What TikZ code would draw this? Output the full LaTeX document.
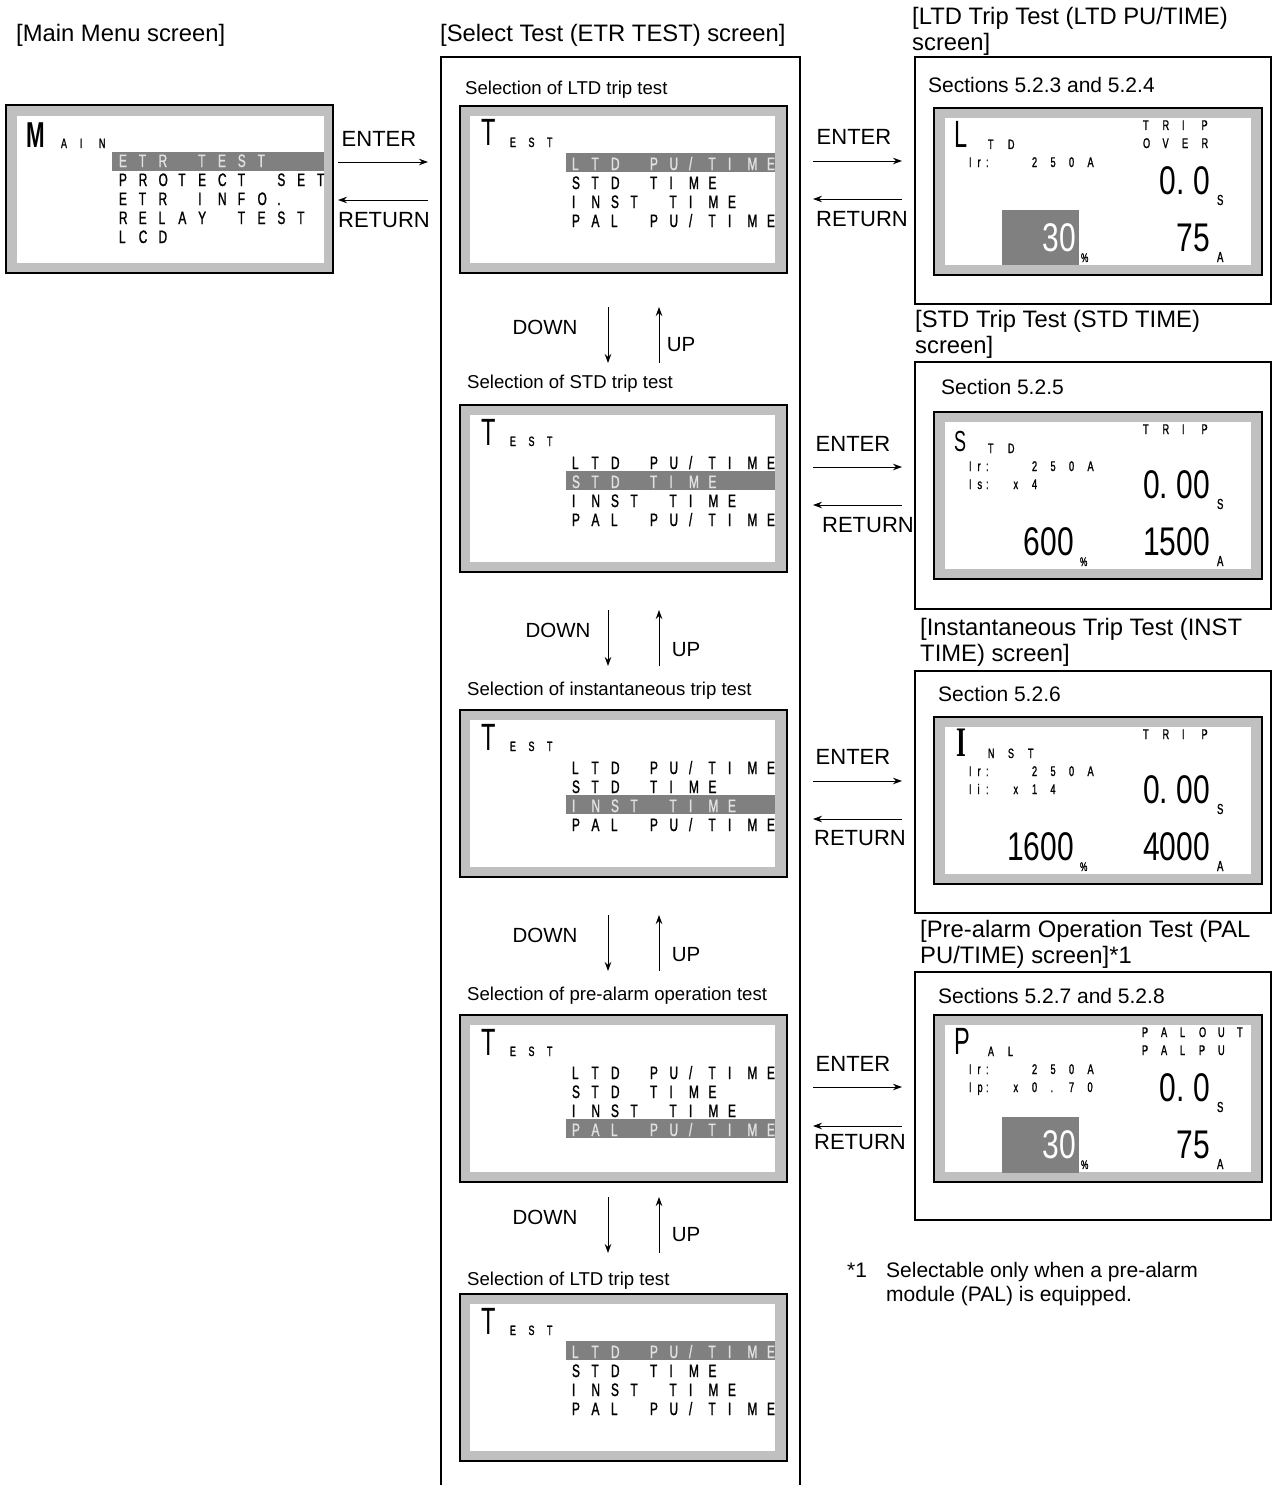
\documentclass[tikz,border=0pt]{standalone}
\usepackage{fontspec}
\setmainfont{Liberation Sans}
\newfontfamily\lcdfont[FakeStretch=0.66,FakeBold=1.2]{Liberation Sans}
\newfontfamily\lcdnumfont[FakeStretch=0.75]{Liberation Sans}
\newfontfamily\lcdbigfont[FakeStretch=0.62]{Liberation Sans}
\newfontfamily\lcdseriffont[FakeStretch=0.6]{Liberation Serif}
\usetikzlibrary{arrows.meta}

\definecolor{lcdgray}{RGB}{192,192,192}
\definecolor{hlgray}{RGB}{128,128,128}
\definecolor{hltext}{RGB}{225,225,225}

\newlength\lcdp
\def\lcdloop#1{\ifx#1\relax\else\makebox[\lcdp][l]{#1}\expandafter\lcdloop\fi}
\newcommand\lcdtxt[2]{\setlength\lcdp{#1}\lcdloop#2\relax}
\newcommand\lcdhl[2]{\ifnum#1=#2\relax\color{hltext}\fi}

\newcommand\lcdFmenu{\lcdfont\fontsize{18}{18}\selectfont}
\newcommand\lcdFsmall{\lcdfont\fontsize{13.5}{13.5}\selectfont}
\newcommand\lcdFinfo{\lcdfont\fontsize{14}{14}\selectfont}
\newcommand\lcdFnum{\lcdnumfont\fontsize{40}{40}\selectfont}
\newcommand\lcdFunit{\lcdfont\fontsize{14.5}{14.5}\selectfont}
\newcommand\lcdFpct{\lcdfont\fontsize{12.5}{12.5}\selectfont}
\newcommand\lcdFbig{\lcdbigfont\fontsize{38}{38}\selectfont}
\newcommand\lcdFbigS{\lcdbigfont\fontsize{29}{29}\selectfont}
\newcommand\lcdFbigM{\lcdbigfont\bfseries\fontsize{36}{36}\selectfont}
\newcommand\lcdFbigI{\lcdseriffont\bfseries\fontsize{42}{42}\selectfont}

\tikzset{
  lcdouter/.style={draw=black, line width=2.5pt, fill=lcdgray, anchor=north west, inner sep=0pt, outer sep=0pt},
  lcdinner/.style={fill=white, anchor=north west, inner sep=0pt, outer sep=0pt},
  hlbar/.style={fill=hlgray, anchor=north west, inner sep=0pt, outer sep=0pt},
  panelbox/.style={draw=black, line width=1.4pt, anchor=north west, inner sep=0pt, outer sep=0pt},
  panel/.style={draw=black, line width=1.4pt},
  lcdtext/.style={inner sep=0pt, outer sep=0pt, anchor=base west},
  lcdnumr/.style={inner sep=0pt, outer sep=0pt, anchor=base east},
  title/.style={inner sep=0pt, anchor=base west, font=\fontsize{23.8}{27}\selectfont},
  sel/.style={inner sep=0pt, anchor=base west, font=\fontsize{18.6}{22}\selectfont},
  sect/.style={inner sep=0pt, anchor=base west, font=\fontsize{21}{25}\selectfont},
  foot/.style={inner sep=0pt, anchor=base west, font=\fontsize{21}{25}\selectfont},
  lbl/.style={inner sep=0pt, font=\fontsize{22}{26}\selectfont},
  updown/.style={inner sep=0pt, font=\fontsize{20.5}{24}\selectfont},
  arr/.style={-{Stealth[length=9pt,width=6.5pt]}, line width=0.9pt},
}

\newcommand\testscreen[3]{%
  \node[lcdouter, minimum width=327pt, minimum height=167pt] (#1) at (460,#2) {};
  \node[lcdinner, minimum width=305pt, minimum height=147pt] (#1w) at (470,#2+10) {};
  \node[hlbar, minimum width=209pt, minimum height=19pt] (#1h) at (566,{#2+47+19*#3}) {};
  \node[lcdtext, font=\lcdFbig] (#1T) at (481,#2+40) {T};
  \node[lcdtext, font=\lcdFsmall] (#1s) at (510,#2+41) {\lcdtxt{18.5pt}{EST}};
  \node[lcdtext, font=\lcdFmenu] (#1r0) at (572,#2+64) {\lcdhl{#3}{0}\lcdtxt{19.5pt}{LTD~PU/TIME}};
  \node[lcdtext, font=\lcdFmenu] (#1r1) at (572,#2+83) {\lcdhl{#3}{1}\lcdtxt{19.5pt}{STD~TIME}};
  \node[lcdtext, font=\lcdFmenu] (#1r2) at (572,#2+102) {\lcdhl{#3}{2}\lcdtxt{19.5pt}{INST~TIME}};
  \node[lcdtext, font=\lcdFmenu] (#1r3) at (572,#2+121) {\lcdhl{#3}{3}\lcdtxt{19.5pt}{PAL~PU/TIME}};
}

\newcommand\rframe[2]{%
  \node[lcdouter, minimum width=328pt, minimum height=167pt] (#1) at (934,#2) {};
  \node[lcdinner, minimum width=306pt, minimum height=147pt] (#1w) at (945,#2+10) {};
}

\newcommand\updownpair[6]{% prefix, down x, down y, top, up x, up y
  \node[updown] (#1dl) at (#2,#3) {DOWN};
  \node[updown] (#1ul) at (#5,#6) {UP};
  \coordinate (#1d1) at (608,#4);
  \coordinate (#1d2) at (608,#4+56);
  \coordinate (#1u1) at (659,#4+56);
  \coordinate (#1u2) at (659,#4);
  \draw[arr] (#1d1) -- (#1d2);
  \draw[arr] (#1u1) -- (#1u2);
}

\newcommand\enterret[7]{% prefix, enter x, enter y, right y, left y, return x, return y
  \node[lbl] (#1en) at (#2,#3) {ENTER};
  \node[lbl] (#1re) at (#6,#7) {RETURN};
  \coordinate (#1a1) at (813,#4);
  \coordinate (#1a2) at (902,#4);
  \coordinate (#1b1) at (902,#5);
  \coordinate (#1b2) at (813,#5);
  \draw[arr] (#1a1) -- (#1a2);
  \draw[arr] (#1b1) -- (#1b2);
}

\begin{document}
\begin{tikzpicture}[x=1pt,y=-1pt]
\useasboundingbox (0,0) rectangle (1273,1485);
\fill[white] (0,0) rectangle (1273,1485);

% ---------- titles ----------
\node[title] (tmain) at (16,42) {[Main Menu screen]};
\node[title] (tsel) at (440,42) {[Select Test (ETR TEST) screen]};
\node[title] (tltda) at (912,24.5) {[LTD Trip Test (LTD PU/TIME)};
\node[title] (tltdb) at (912,51) {screen]};
\node[title] (tstda) at (915,327) {[STD Trip Test (STD TIME)};
\node[title] (tstdb) at (915,353.5) {screen]};
\node[title] (tinsta) at (920,635) {[Instantaneous Trip Test (INST};
\node[title] (tinstb) at (920,661.5) {TIME) screen]};
\node[title] (tpala) at (920,937) {[Pre-alarm Operation Test (PAL};
\node[title] (tpalb) at (920,963.5) {PU/TIME) screen]*1};

% ---------- main menu LCD ----------
\node[lcdouter, minimum width=327pt, minimum height=168pt] (mainlcd) at (6,105) {};
\node[lcdinner, minimum width=307pt, minimum height=147pt] (mainw) at (17,116) {};
\node[hlbar, minimum width=212pt, minimum height=19pt] (mainh) at (112,152) {};
\node[lcdtext, font=\lcdFbigM] (mainM) at (26,147) {M};
\node[lcdtext, font=\lcdFsmall] (mainain) at (61,148) {\lcdtxt{19pt}{AIN}};
\node[lcdtext, font=\lcdFmenu, text=hltext] (main0) at (119,167) {\lcdtxt{19.8pt}{ETR~TEST}};
\node[lcdtext, font=\lcdFmenu] (main1) at (119,186) {\lcdtxt{19.8pt}{PROTECT~SET}};
\node[lcdtext, font=\lcdFmenu] (main2) at (119,205) {\lcdtxt{19.8pt}{ETR~INFO.}};
\node[lcdtext, font=\lcdFmenu] (main3) at (119,224) {\lcdtxt{19.8pt}{RELAY~TEST}};
\node[lcdtext, font=\lcdFmenu] (main4) at (119,243) {\lcdtxt{19.8pt}{LCD}};

\node[lbl] (mainen) at (379,139) {ENTER};
\node[lbl] (mainre) at (384,220) {RETURN};
\coordinate (ma1) at (338,162);
\coordinate (ma2) at (428,162);
\coordinate (mb1) at (428,200);
\coordinate (mb2) at (338,200);
\draw[arr] (ma1) -- (ma2);
\draw[arr] (mb1) -- (mb2);

% ---------- middle column ----------
\draw[panel] (441,1487) -- (441,57) -- (800,57) -- (800,1487);

\node[sel] (sel1) at (465,95) {Selection of LTD trip test};
\node[sel] (sel2) at (467,388) {Selection of STD trip test};
\node[sel] (sel3) at (467,695) {Selection of instantaneous trip test};
\node[sel] (sel4) at (467,1000) {Selection of pre-alarm operation test};
\node[sel] (sel5) at (467,1285) {Selection of LTD trip test};

\testscreen{ts1}{106}{0}
\testscreen{ts2}{405}{1}
\testscreen{ts3}{710}{2}
\testscreen{ts4}{1015}{3}
\testscreen{ts5}{1294}{0}

\updownpair{p1}{545}{327}{307}{681}{345}
\updownpair{p2}{558}{630}{610}{686}{650}
\updownpair{p3}{545}{935}{915}{686}{955}
\updownpair{p4}{545}{1217}{1197}{686}{1235}

% ---------- enter / return right ----------
\enterret{e1}{854}{137}{161}{199}{862}{219}
\enterret{e2}{853}{444}{467}{505}{868}{525}
\enterret{e3}{853}{757}{781}{819}{860}{838}
\enterret{e4}{853}{1064}{1087}{1126}{860}{1142}

% ---------- right panels ----------
\node[panelbox, minimum width=356pt, minimum height=247pt] (ltdbox) at (915,57) {};
\node[panelbox, minimum width=356pt, minimum height=247pt] (stdbox) at (915,362) {};
\node[panelbox, minimum width=356pt, minimum height=242pt] (instbox) at (915,671) {};
\node[panelbox, minimum width=356pt, minimum height=248pt] (palbox) at (915,972) {};

\node[sect] (sec1) at (928,93) {Sections 5.2.3 and 5.2.4};
\node[sect] (sec2) at (941,394) {Section 5.2.5};
\node[sect] (sec3) at (938,701) {Section 5.2.6};
\node[sect] (sec4) at (938,1003) {Sections 5.2.7 and 5.2.8};

% LTD screen
\rframe{ltd}{108}
\node[hlbar, minimum width=77pt, minimum height=55pt] (ltdh) at (1002,210) {};
\node[lcdtext, font=\lcdFbig] (ltdL) at (954,147) {L};
\node[lcdtext, font=\lcdFsmall] (ltdsuf) at (988,149) {\lcdtxt{20pt}{TD}};
\node[lcdtext, font=\lcdFinfo] (ltdir) at (969,167) {\lcdtxt{8.5pt}{Ir:}};
\node[lcdtext, font=\lcdFinfo] (ltdirv) at (1032,167) {\lcdtxt{18.5pt}{250A}};
\node[lcdtext, font=\lcdFinfo] (ltdtrip) at (1143,130) {\lcdtxt{19.5pt}{TRIP}};
\node[lcdtext, font=\lcdFinfo] (ltdover) at (1143,148) {\lcdtxt{19.5pt}{OVER}};
\node[lcdnumr, font=\lcdFnum] (ltdt) at (1210,194) {0.\ 0};
\node[lcdtext, font=\lcdFunit] (ltds) at (1217,205) {S};
\node[lcdnumr, font=\lcdFnum, text=white] (ltdp) at (1076,251) {30};
\node[lcdtext, font=\lcdFpct] (ltdps) at (1081,262) {\%};
\node[lcdnumr, font=\lcdFnum] (ltda) at (1210,251) {75};
\node[lcdtext, font=\lcdFunit] (ltdas) at (1217,262) {A};

% STD screen
\rframe{std}{412}
\node[lcdtext, font=\lcdFbigS] (stdS) at (954,451) {S};
\node[lcdtext, font=\lcdFsmall] (stdsuf) at (988,453) {\lcdtxt{20pt}{TD}};
\node[lcdtext, font=\lcdFinfo] (stdir) at (969,471) {\lcdtxt{8.5pt}{Ir:}};
\node[lcdtext, font=\lcdFinfo] (stdirv) at (1032,471) {\lcdtxt{18.5pt}{250A}};
\node[lcdtext, font=\lcdFinfo] (stdis) at (969,489) {\lcdtxt{8.5pt}{Is:}};
\node[lcdtext, font=\lcdFinfo] (stdisv) at (1013.5,489) {\lcdtxt{18.5pt}{x4}};
\node[lcdtext, font=\lcdFinfo] (stdtrip) at (1143,434) {\lcdtxt{19.5pt}{TRIP}};
\node[lcdnumr, font=\lcdFnum] (stdt) at (1210,498) {0.\ 00};
\node[lcdtext, font=\lcdFunit] (stds) at (1217,509) {S};
\node[lcdnumr, font=\lcdFnum] (stdp) at (1074,555) {600};
\node[lcdtext, font=\lcdFpct] (stdps) at (1080,566) {\%};
\node[lcdnumr, font=\lcdFnum] (stda) at (1210,555) {1500};
\node[lcdtext, font=\lcdFunit] (stdas) at (1217,566) {A};

% INST screen
\rframe{inst}{717}
\node[lcdtext, font=\lcdFbigI] (instI) at (956,756) {I};
\node[lcdtext, font=\lcdFsmall] (instsuf) at (988,758) {\lcdtxt{20pt}{NST}};
\node[lcdtext, font=\lcdFinfo] (instir) at (969,776) {\lcdtxt{8.5pt}{Ir:}};
\node[lcdtext, font=\lcdFinfo] (instirv) at (1032,776) {\lcdtxt{18.5pt}{250A}};
\node[lcdtext, font=\lcdFinfo] (instii) at (969,794) {\lcdtxt{8.5pt}{Ii:}};
\node[lcdtext, font=\lcdFinfo] (instiiv) at (1013.5,794) {\lcdtxt{18.5pt}{x14}};
\node[lcdtext, font=\lcdFinfo] (insttrip) at (1143,739) {\lcdtxt{19.5pt}{TRIP}};
\node[lcdnumr, font=\lcdFnum] (instt) at (1210,803) {0.\ 00};
\node[lcdtext, font=\lcdFunit] (insts) at (1217,814) {S};
\node[lcdnumr, font=\lcdFnum] (instp) at (1074,860) {1600};
\node[lcdtext, font=\lcdFpct] (instps) at (1080,871) {\%};
\node[lcdnumr, font=\lcdFnum] (insta) at (1210,860) {4000};
\node[lcdtext, font=\lcdFunit] (instas) at (1217,871) {A};

% PAL screen
\rframe{pal}{1015}
\node[hlbar, minimum width=77pt, minimum height=56pt] (palh) at (1002,1117) {};
\node[lcdtext, font=\lcdFbig] (palP) at (954,1054) {P};
\node[lcdtext, font=\lcdFsmall] (palsuf) at (988,1056) {\lcdtxt{20pt}{AL}};
\node[lcdtext, font=\lcdFinfo] (palir) at (969,1074) {\lcdtxt{8.5pt}{Ir:}};
\node[lcdtext, font=\lcdFinfo] (palirv) at (1032,1074) {\lcdtxt{18.5pt}{250A}};
\node[lcdtext, font=\lcdFinfo] (palip) at (969,1092) {\lcdtxt{8.5pt}{Ip:}};
\node[lcdtext, font=\lcdFinfo] (palipv) at (1013.5,1092) {\lcdtxt{18.5pt}{x0.70}};
\node[lcdtext, font=\lcdFinfo] (palout) at (1142,1037) {\lcdtxt{19pt}{PALOUT}};
\node[lcdtext, font=\lcdFinfo] (palpu) at (1142,1055) {\lcdtxt{19pt}{PALPU}};
\node[lcdnumr, font=\lcdFnum] (palt) at (1210,1101) {0.\ 0};
\node[lcdtext, font=\lcdFunit] (pals) at (1217,1112) {S};
\node[lcdnumr, font=\lcdFnum, text=white] (palp) at (1076,1158) {30};
\node[lcdtext, font=\lcdFpct] (palps) at (1081,1169) {\%};
\node[lcdnumr, font=\lcdFnum] (pala) at (1210,1158) {75};
\node[lcdtext, font=\lcdFunit] (palas) at (1217,1169) {A};

% ---------- footnote ----------
\node[foot] (fn0) at (847,1277) {*1};
\node[foot] (fn1) at (886,1277) {Selectable only when a pre-alarm};
\node[foot] (fn2) at (886,1301) {module (PAL) is equipped.};
\end{tikzpicture}
\end{document}
